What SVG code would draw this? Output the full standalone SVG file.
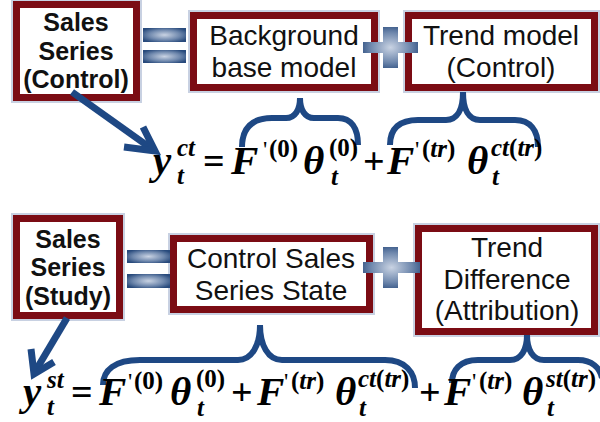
<svg xmlns="http://www.w3.org/2000/svg" width="600" height="422" viewBox="0 0 600 422">
<defs>
<radialGradient id="bar" cx="0.5" cy="0.5" r="0.6">
<stop offset="0" stop-color="#c9d3e3"/>
<stop offset="0.6" stop-color="#6f88ad"/>
<stop offset="1" stop-color="#284a7c"/>
</radialGradient>
<style>
.box{fill:#fff;stroke:#7b0c14;stroke-width:7}
.glow{fill:none;stroke:#c8d1e2;stroke-width:2}
.bt{font-family:"Liberation Sans",Arial,sans-serif;font-size:25px;font-weight:bold;text-anchor:middle;fill:#111}
.rt{font-family:"Liberation Sans",Arial,sans-serif;font-size:28px;text-anchor:middle;fill:#111}
.m{font-family:"Liberation Serif","Times New Roman",serif;font-weight:bold;font-style:italic;font-size:41px;fill:#000}
.s{font-family:"Liberation Serif","Times New Roman",serif;font-weight:bold;font-style:italic;font-size:25px;fill:#000}
.u{font-style:normal}
.op{font-family:"Liberation Serif","Times New Roman",serif;font-weight:bold;font-size:38px;fill:#000}
.pr{font-family:"Liberation Serif","Times New Roman",serif;font-size:24px;fill:#000}
.sign{fill:url(#bar)}
.con{fill:none;stroke:#1e4884;stroke-width:7;stroke-linecap:butt;stroke-linejoin:miter}
.brace{fill:none;stroke:#1e4884;stroke-width:6}
</style>
</defs>

<g id="box-sales-control">
<rect class="glow" x="12" y="0" width="129" height="102"/>
<rect class="box" x="16.5" y="4.5" width="120" height="93"/>
<text class="bt" x="76" y="31">Sales</text>
<text class="bt" x="76" y="60">Series</text>
<text class="bt" x="76" y="88">(Control)</text>
</g>

<g id="box-background">
<rect class="glow" x="189" y="11" width="190" height="81"/>
<rect class="box" x="193.5" y="15.5" width="181" height="72"/>
<text class="rt" x="284" y="45">Background</text>
<text class="rt" x="284" y="77">base model</text>
</g>

<g id="box-trend-control">
<rect class="glow" x="404" y="11" width="195" height="81"/>
<rect class="box" x="408.5" y="15.5" width="186" height="72"/>
<text class="rt" x="501" y="45">Trend model</text>
<text class="rt" x="501" y="77">(Control)</text>
</g>

<g id="box-sales-study">
<rect class="glow" x="12" y="214" width="112" height="106"/>
<rect class="box" x="16.5" y="218.5" width="103" height="97"/>
<text class="bt" x="68" y="248">Sales</text>
<text class="bt" x="68" y="276">Series</text>
<text class="bt" x="68" y="305">(Study)</text>
</g>

<g id="box-control-state">
<rect class="glow" x="169" y="234" width="205" height="80"/>
<rect class="box" x="173.5" y="238.5" width="196" height="71"/>
<text class="rt" x="271" y="268">Control Sales</text>
<text class="rt" x="271" y="300">Series State</text>
</g>

<g id="box-trend-difference">
<rect class="glow" x="414" y="224" width="185" height="112"/>
<rect class="box" x="418.5" y="228.5" width="176" height="103"/>
<text class="rt" x="507" y="257">Trend</text>
<text class="rt" x="507" y="289">Difference</text>
<text class="rt" x="507" y="320">(Attribution)</text>
</g>

<g id="operators">
<rect class="sign" x="143" y="28" width="43" height="14"/>
<rect class="sign" x="143" y="50" width="43" height="13"/>
<path class="sign" d="M383 27 H398 V42 H418 V53 H398 V68 H383 V53 H363 V42 H383 Z"/>
<rect class="sign" x="127" y="250" width="43" height="13"/>
<rect class="sign" x="127" y="274" width="43" height="14"/>
<path class="sign" d="M383 247 H398 V262 H420 V273 H398 V288 H383 V273 H363 V262 H383 Z"/>
</g>

<g id="connectors">
<path class="con" d="M72 92 L152 149"/>
<path class="con" d="M124 147 L155 151 L143 127"/>
<path class="con" d="M67 318 L36 370"/>
<path class="con" d="M31 349 L34 374 L54 362"/>
<path class="brace" d="M242 147 C242 128 252 118 272 118 L286 118 C295 118 300 110 300 98 C300 110 305 118 314 118 L338 118 C351 118 358 128 358 145"/>
<path class="brace" d="M390 145 C390 128 400 120 418 120 L446 120 C457 120 463 110 463 92 C463 110 469 120 480 120 L515 120 C530 120 538 130 538 147"/>
<path class="brace" d="M103 385 C103 370 115 360 140 360 L238 360 C252 360 260 345 260 325 C260 345 268 360 282 360 L385 360 C405 360 415 372 415 388"/>
<path class="brace" d="M452 383 C452 370 460 360 478 360 L510 360 C521 360 527 350 527 335 C527 350 533 360 544 360 L578 360 C592 360 600 368 602 378"/>
</g>

<g id="equation-control">
<text class="m" x="153" y="174">y</text>
<text class="s" x="177" y="156">ct</text>
<text class="s" x="177" y="184">t</text>
<text class="op" x="203" y="174">=</text>
<text class="m" x="231" y="174">F</text>
<text class="pr" x="263" y="157">'</text>
<text class="s" x="269" y="157"><tspan class="u">(0)</tspan></text>
<text class="m" x="303" y="174">θ</text>
<text class="s" x="329" y="156"><tspan class="u">(0)</tspan></text>
<text class="s" x="331" y="185">t</text>
<text class="op" x="363" y="174">+</text>
<text class="m" x="387" y="174">F</text>
<text class="pr" x="415" y="157">'</text>
<text class="s" x="422" y="157"><tspan class="u">(</tspan>tr<tspan class="u">)</tspan></text>
<text class="m" x="467" y="174">θ</text>
<text class="s" x="491" y="156">ct<tspan class="u">(</tspan>tr<tspan class="u">)</tspan></text>
<text class="s" x="492" y="185">t</text>
</g>

<g id="equation-study">
<text class="m" x="23" y="405">y</text>
<text class="s" x="47" y="388">st</text>
<text class="s" x="47" y="415">t</text>
<text class="op" x="71" y="405">=</text>
<text class="m" x="99" y="405">F</text>
<text class="pr" x="128" y="389">'</text>
<text class="s" x="134" y="389"><tspan class="u">(0)</tspan></text>
<text class="m" x="170" y="405">θ</text>
<text class="s" x="196" y="387"><tspan class="u">(0)</tspan></text>
<text class="s" x="197" y="416">t</text>
<text class="op" x="231" y="405">+</text>
<text class="m" x="257" y="405">F</text>
<text class="pr" x="284" y="389">'</text>
<text class="s" x="291" y="389"><tspan class="u">(</tspan>tr<tspan class="u">)</tspan></text>
<text class="m" x="335" y="405">θ</text>
<text class="s" x="358" y="387">ct<tspan class="u">(</tspan>tr<tspan class="u">)</tspan></text>
<text class="s" x="359" y="416">t</text>
<text class="op" x="419" y="405">+</text>
<text class="m" x="444" y="405">F</text>
<text class="pr" x="472" y="389">'</text>
<text class="s" x="479" y="389"><tspan class="u">(</tspan>tr<tspan class="u">)</tspan></text>
<text class="m" x="522" y="405">θ</text>
<text class="s" x="546" y="387">st<tspan class="u">(</tspan>tr<tspan class="u">)</tspan></text>
<text class="s" x="547" y="416">t</text>
</g>
</svg>
